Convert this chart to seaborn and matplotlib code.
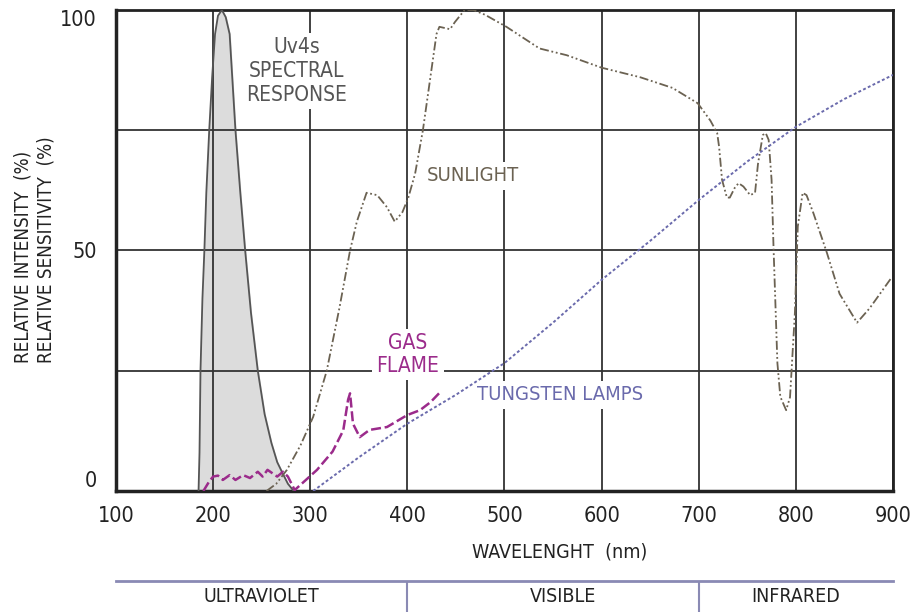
import numpy as np
import seaborn as sns
import matplotlib.pyplot as plt

# Uv4s spectral response (filled peak)
uv_nm = [185, 186, 187, 189, 191, 193, 196, 199, 202, 205, 209, 213, 217, 220, 223,
         228, 233, 239, 246, 253, 260, 266, 272, 277, 283]
uv_val = [0, 8, 25, 40, 50, 62, 75, 86, 95, 98.8, 100, 98.5, 95, 85, 75,
          62, 50, 37, 25, 16, 10, 6, 3.5, 1.5, 0]

# sunlight
sun_nm = [255, 265, 276, 290, 303, 317, 330, 341, 348, 358, 369, 379, 387, 395, 401,
          408, 416, 423, 430, 433, 444, 449, 459, 468, 480, 502, 536, 564, 600, 640,
          673, 699, 712, 719, 721, 724, 729, 732, 737, 741, 746, 753, 758, 761, 766,
          769, 772, 775, 777, 781, 784, 790, 794, 799, 802, 807, 811, 818, 832, 845,
          863, 876, 899]
sun_val = [0, 1.5, 4.4, 9.5, 15.4, 25, 38, 50, 56, 62, 61.5, 59, 56, 58, 61,
           66, 75, 85, 95, 96.5, 96, 97.5, 100, 100, 99, 96.5, 92, 90.6, 88, 86,
           83.8, 80.6, 77, 74.4, 71.5, 64.7, 61, 61, 63, 64, 63.3, 61.5, 62, 68, 74,
           74.4, 73, 64.7, 50.7, 26.6, 19.6, 16.8, 19.5, 37, 55, 62, 61.5, 57.8, 49.5, 41,
           35, 38, 44.5]

# gas flame
gas_nm = [190, 196, 200, 205, 210, 217, 223, 231, 238, 246, 251, 256, 266, 272, 277,
          284, 295, 307, 323, 334, 339, 341, 344, 351, 361, 379, 400, 413, 424, 434]
gas_val = [0, 2, 3, 3.2, 2.3, 3.3, 2.3, 3.3, 2.7, 4, 3, 4.4, 3, 4, 3,
           0.2, 2.2, 4.4, 8.2, 12.6, 19, 20.3, 14, 11.2, 12.7, 13.3, 15.8, 16.8, 18.5, 20.6]

# tungsten lamps
tung_nm = [303, 350, 400, 450, 500, 550, 600, 650, 700, 750, 800, 850, 900]
tung_val = [0, 7, 14, 20, 26.6, 35, 43.9, 52, 60.5, 68.5, 75.7, 81.5, 86.5]

x_ticks = [100, 200, 300, 400, 500, 600, 700, 800, 900]
y_ticks = [0, 50, 100]
band_edges = [400, 700]
band_labels = ["ULTRAVIOLET", "VISIBLE", "INFRARED"]
band_centers = [250, 560, 800]

sns.set_theme(style="white")
plt.rcParams['font.family'] = ['DejaVu Sans']
plt.rcParams['font.stretch'] = 'condensed'

fig = plt.figure(figsize=(9.14, 6.12), dpi=100)
ax = fig.add_axes([0.1269, 0.1977, 0.8501, 0.786])

ax.fill_between(uv_nm, uv_val, color="#dcdcdc", zorder=1)
sns.lineplot(x=uv_nm, y=uv_val, color="#555555", lw=1.3, sort=False, ax=ax, zorder=3)
sns.lineplot(x=sun_nm, y=sun_val, color="#6b6252", lw=1.3, sort=False, ax=ax, zorder=3,
             linestyle=(0, (5, 1.5, 1, 1.5, 1, 1.5)))
sns.lineplot(x=gas_nm, y=gas_val, color="#9b2b8b", lw=1.8, sort=False, ax=ax, zorder=3,
             linestyle=(0, (4, 1.5)))
sns.lineplot(x=tung_nm, y=tung_val, color="#6a6aac", lw=1.4, sort=False, ax=ax, zorder=3,
             linestyle=(0, (1.5, 1.2)))

ax.set_xlim(100, 900)
ax.set_ylim(0, 100)
ax.set_xticks(x_ticks)
ax.set_yticks(y_ticks)
ax.yaxis.set_minor_locator(plt.FixedLocator([25, 75]))
ax.grid(True, which="both", axis="y", color="#333333", lw=1.3)
ax.grid(True, which="major", axis="x", color="#333333", lw=1.3)
ax.set_axisbelow("line")
ax.tick_params(axis="both", which="both", length=0, labelsize=15.5, colors="#222222")
ax.tick_params(axis="x", pad=11)
ax.tick_params(axis="y", pad=14)
ylabs = ax.get_yticklabels()
ylabs[0].set_va("bottom")
ylabs[-1].set_va("top")
for side, w in [("left", 2.5), ("bottom", 2.5), ("top", 2), ("right", 2)]:
    ax.spines[side].set_linewidth(w)
    ax.spines[side].set_color("#222222")

ax.set_xlabel("WAVELENGHT  (nm)", fontsize=14, color="#222222")
ax.xaxis.set_label_coords(0.571, -0.127)
ax.xaxis.label.set_va("center")
ax.set_ylabel("RELATIVE INTENSITY  (%)\nRELATIVE SENSITIVITY  (%)", fontsize=13.5,
              color="#222222", multialignment="left", linespacing=1.25)
ax.yaxis.set_label_coords(-0.105, 0.501)
ax.yaxis.label.set_va("center")

box = dict(facecolor="white", edgecolor="none", pad=3)
ax.text(286, 87.3, "Uv4s\nSPECTRAL\nRESPONSE", ha="center", va="center", fontsize=15,
        color="#555555", linespacing=1.25, bbox=box, zorder=2)
ax.text(467, 65.5, "SUNLIGHT", ha="center", va="center", fontsize=14.5,
        color="#6b6252", bbox=box, zorder=2)
ax.text(400.6, 28.4, "GAS\nFLAME", ha="center", va="center", fontsize=15,
        color="#9b2b8b", linespacing=1.2, bbox=box, zorder=2)
ax.text(557, 20, "TUNGSTEN LAMPS", ha="center", va="center", fontsize=14.5,
        color="#6a6aac", bbox=box, zorder=2)

# spectrum band below the chart
ax2 = fig.add_axes([0.1269, 0.0, 0.8501, 0.0507])
ax2.set_xlim(100, 900)
ax2.set_ylim(0, 1)
for side in ["left", "right", "bottom"]:
    ax2.spines[side].set_visible(False)
ax2.spines["top"].set_color("#8a8ab4")
ax2.spines["top"].set_linewidth(2)
for e in band_edges:
    ax2.axvline(e, color="#8a8ab4", lw=1.5)
for lab, c in zip(band_labels, band_centers):
    ax2.text(c, 0.5, lab, ha="center", va="center", fontsize=14, color="#222222")
ax2.set_xticks([])
ax2.set_yticks([])
ax2.patch.set_alpha(0)

fig.savefig("out.png", dpi=100)
plt.close(fig)
